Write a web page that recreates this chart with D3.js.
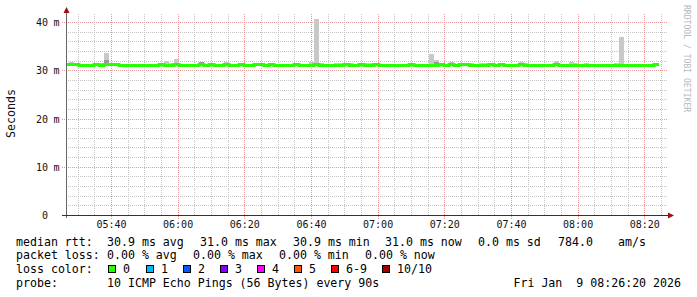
<!DOCTYPE html>
<html>
<head>
<meta charset="utf-8">
<script src="https://cdn.jsdelivr.net/npm/d3@7"></script>
<style>
  html, body { margin: 0; padding: 0; background: #fff; }
  svg text { font-family: "DejaVu Sans Mono", monospace; white-space: pre; }
</style>
</head>
<body>
<svg id="graph" width="697" height="297"></svg>
<script>
// time window of the graph and the 90s probe step
const startTime = new Date(2026, 0, 9, 5, 26, 40);
const endTime = new Date(2026, 0, 9, 8, 26, 40);
const firstSample = new Date(2026, 0, 9, 5, 25, 46);
const stepSeconds = 90;

// median rtt per step (ms)
const medianRtt = [
    31.3, 31.3, 31.3, 31.1, 31.1, 31.1, 31.3, 31.1, 31.3, 31.3,
    31.3, 31.1, 31.1, 31.1, 31.1, 31.1, 31.1, 31.1, 31.1, 31.3,
    31.1, 31.1, 31.3, 31.1, 31.1, 31.1, 31.1, 31.3, 31.1, 31.3,
    31.1, 31.1, 31.3, 31.1, 31.1, 31.3, 31.1, 31.1, 31.3, 31.3,
    31.1, 31.3, 31.1, 31.1, 31.1, 31.1, 31.3, 31.1, 31.1, 31.1,
    31.3, 31.1, 31.1, 31.1, 31.1, 31.1, 31.3, 31.1, 31.1, 31.3,
    31.1, 31.1, 31.3, 31.1, 31.1, 31.1, 31.1, 31.1, 31.1, 31.3,
    31.1, 31.1, 31.1, 31.1, 31.1, 31.3, 31.1, 31.3, 31.1, 31.3,
    31.3, 31.1, 31.1, 31.1, 31.1, 31.3, 31.1, 31.3, 31.1, 31.1,
    31.1, 31.3, 31.1, 31.1, 31.1, 31.1, 31.1, 31.1, 31.3, 31.1,
    31.1, 31.1, 31.1, 31.1, 31.1, 31.1, 31.1, 31.1, 31.1, 31.1,
    31.1, 31.1, 31.1, 31.1, 31.1, 31.1, 31.1, 31.1, 31.3
];

// slowest ping per step (outer smoke), null = no smoke above the median
const smokeMax = [
    null, 31.8, null, null, null, null, null, 31.6, 33.65, 31.6,
    null, null, null, null, null, null, null, null, null, null,
    32.0, 31.6, 32.4, null, null, null, null, 31.8, null, null,
    null, null, 31.75, null, null, null, null, null, null, 31.6,
    null, null, null, null, null, null, null, null, null, 31.8,
    40.7, 31.6, null, null, 31.7, 31.6, null, 31.7, null, null,
    31.6, 31.6, 31.7, null, null, null, null, null, null, null,
    null, null, null, 33.45, 32.25, null, null, 31.8, null, null,
    null, 31.6, null, 31.6, 31.6, null, null, null, null, null,
    null, 31.8, 31.6, null, null, null, null, null, 32.0, null,
    null, 31.85, 31.6, null, 31.6, null, null, null, null, null,
    31.7, 37.0, null, null, null, null, null, null, null
];

// inner (darker) smoke band top per step
const smokeInner = [
    null, null, null, null, null, null, null, null, 32.2, null,
    null, null, null, null, null, null, null, null, null, null,
    null, null, null, null, null, null, null, 31.8, null, null,
    null, null, null, null, null, null, null, null, null, null,
    null, null, null, null, null, null, null, null, null, null,
    null, null, null, null, null, null, null, null, null, null,
    null, null, null, null, null, null, null, null, null, null,
    null, null, null, null, 31.75, null, null, null, null, null,
    null, null, null, null, null, null, null, null, null, null,
    null, null, null, null, null, null, null, null, null, null,
    null, null, null, null, null, null, null, null, null, null,
    null, null, null, null, null, null, null, null, null
];

const yMajor = [0, 10, 20, 30, 40];
const yMajorLabels = ['0', '10', '20', '30', '40'];

const lossLabels = ['0', '1', '2', '3', '4', '5', '6-9', '10/10'];
const lossColors = ['#26ff00', '#00b8ff', '#0059ff', '#7e00ff', '#ff00ff', '#ff5500', '#ff0000', '#a00000'];

const rttStats = ['30.9 ms avg', '31.0 ms max', '30.9 ms min', '31.0 ms now', '0.0 ms sd', '784.0', 'am/s'];
const lossStats = ['0.00 % avg', '0.00 % max', '0.00 % min', '0.00 % now'];
const probeText = '10 ICMP Echo Pings (56 Bytes) every 90s';
const stampText = 'Fri Jan  9 08:26:20 2026';

// layout
const plotLeft = 67, plotRight = 667, plotTop = 13, plotBottom = 215.5;
const rttX = [107, 200, 293, 385, 478, 558, 618];
const lossX = [107, 193, 279, 365];
const boxX = [108, 146, 183, 220, 257, 294, 331, 382];
const rowY = [245.5, 259, 273, 286.5];
const minorColor = '#c4c4c4';
const majorColor = '#e29c9c';

const svg = d3.select('#graph');

const x = d3.scaleTime().domain([startTime, endTime]).range([plotLeft, plotRight]);
const y = d3.scaleLinear().domain([0, 42]).range([plotBottom, 12.85]);
const px = v => Math.floor(v);

svg.append('rect').attr('width', 697).attr('height', 297).attr('fill', '#fff');

const defs = svg.append('defs');
defs.append('clipPath').attr('id', 'plotClip')
    .append('rect')
    .attr('x', plotLeft).attr('y', 0)
    .attr('width', plotRight - plotLeft).attr('height', plotBottom);

// dotted grid as 1px-wide strips filled with a 2px dot pattern
function dotPattern(id, color, horizontal) {
    const p = defs.append('pattern').attr('id', id)
        .attr('patternUnits', 'userSpaceOnUse')
        .attr('width', horizontal ? 2 : 1).attr('height', horizontal ? 1 : 2);
    p.append('rect').attr('width', 1).attr('height', 1).attr('fill', color);
}
dotPattern('hMinor', minorColor, true);
dotPattern('vMinor', minorColor, false);
dotPattern('hMajor', majorColor, true);
dotPattern('vMajor', majorColor, false);

const minorY = y.ticks(21).filter(v => v % 10 !== 0 && v < 42);
const majorT = x.ticks(d3.timeMinute.every(20));
const minorT = x.ticks(d3.timeMinute.every(5)).filter(t => t.getMinutes() % 20 !== 0);

const grid = svg.append('g').attr('shape-rendering', 'crispEdges');
grid.selectAll('rect.hminor').data(minorY).join('rect')
    .attr('class', 'hminor')
    .attr('x', plotLeft).attr('width', plotRight + 1 - plotLeft)
    .attr('y', d => px(y(d))).attr('height', 1)
    .attr('fill', 'url(#hMinor)');
grid.selectAll('rect.vminor').data(minorT).join('rect')
    .attr('class', 'vminor')
    .attr('x', d => px(x(d))).attr('width', 1)
    .attr('y', plotTop).attr('height', 216 - plotTop)
    .attr('fill', 'url(#vMinor)');
grid.selectAll('rect.hmajor').data(yMajor.slice(1)).join('rect')
    .attr('class', 'hmajor')
    .attr('x', plotLeft - 5).attr('width', plotRight + 6 - plotLeft)
    .attr('y', d => px(y(d))).attr('height', 1)
    .attr('fill', 'url(#hMajor)');
grid.selectAll('rect.vmajor').data(majorT).join('rect')
    .attr('class', 'vmajor')
    .attr('x', d => px(x(d))).attr('width', 1)
    .attr('y', plotTop).attr('height', 219 - plotTop)
    .attr('fill', 'url(#vMajor)');

// smoke
const sampleTime = i => d3.timeSecond.offset(firstSample, i * stepSeconds);
const samples = medianRtt.map((m, i) => ({
    t0: sampleTime(i), t1: sampleTime(i + 1),
    median: m, max: smokeMax[i], inner: smokeInner[i]
}));

const plot = svg.append('g').attr('clip-path', 'url(#plotClip)');

plot.append('g').attr('shape-rendering', 'crispEdges')
    .selectAll('rect')
    .data(samples.filter(d => d.max !== null))
    .join('rect')
    .attr('x', d => x(d.t0))
    .attr('width', d => x(d.t1) - x(d.t0))
    .attr('y', d => Math.round(y(d.max)))
    .attr('height', d => Math.round(y(d.median)) - Math.round(y(d.max)))
    .attr('fill', '#c8c8c8');

plot.append('g').attr('shape-rendering', 'crispEdges')
    .selectAll('rect')
    .data(samples.filter(d => d.inner !== null))
    .join('rect')
    .attr('x', d => x(d.t0))
    .attr('width', d => x(d.t1) - x(d.t0))
    .attr('y', d => Math.round(y(d.inner)))
    .attr('height', d => Math.round(y(d.median)) - Math.round(y(d.inner)))
    .attr('fill', '#989898');

// median line, coloured by loss (all 0 here)
const linePts = samples.map(d => [x(d.t0), y(d.median)]);
linePts.push([x(samples[samples.length - 1].t1), y(medianRtt[medianRtt.length - 1])]);
plot.append('path')
    .attr('d', d3.line().curve(d3.curveStepAfter)(linePts))
    .attr('fill', 'none')
    .attr('stroke', lossColors[0])
    .attr('stroke-width', 3);

// axes
svg.append('line')
    .attr('x1', 66.5).attr('x2', 66.5).attr('y1', 11).attr('y2', 218)
    .attr('stroke', '#666').attr('shape-rendering', 'crispEdges');
svg.append('line')
    .attr('x1', 62).attr('x2', 669).attr('y1', plotBottom).attr('y2', plotBottom)
    .attr('stroke', '#333').attr('shape-rendering', 'crispEdges');
svg.append('path').attr('d', 'M63.5,13 L66.5,7 L69.5,13 Z').attr('fill', '#9b1010');
svg.append('path').attr('d', 'M668,212.5 L674,215.5 L668,218.5 Z').attr('fill', '#9b1010');

// axis labels
svg.selectAll('text.ylab').data(yMajor).join('text')
    .attr('class', 'ylab')
    .attr('x', 48).attr('y', d => px(y(d)) + 3.8)
    .attr('text-anchor', 'end')
    .attr('font-size', 10).attr('fill', '#111')
    .text((d, i) => yMajorLabels[i]);
svg.selectAll('text.yunit').data(yMajor.slice(1)).join('text')
    .attr('class', 'yunit')
    .attr('x', 53.5).attr('y', d => px(y(d)) + 3.8)
    .attr('font-size', 10).attr('fill', '#111')
    .text('m');

svg.selectAll('text.xlab').data(majorT).join('text')
    .attr('class', 'xlab')
    .attr('x', d => x(d)).attr('y', 227.5)
    .attr('text-anchor', 'middle')
    .attr('font-size', 10).attr('fill', '#111')
    .text(d3.timeFormat('%H:%M'));

svg.append('text')
    .attr('transform', 'translate(15,113.5) rotate(-90)')
    .attr('text-anchor', 'middle')
    .attr('font-size', 11.6).attr('fill', '#111')
    .text('Seconds');

svg.append('text')
    .attr('transform', 'translate(684,5) rotate(90)')
    .attr('font-size', 8.1).attr('fill', '#b8b8b8')
    .text('RRDTOOL / TOBI OETIKER');

// legend
const legend = svg.append('g').attr('font-size', 11.6).attr('fill', '#000');
legend.append('text').attr('x', 16).attr('y', rowY[0]).text('median rtt:');
legend.selectAll('text.rtt').data(rttStats).join('text')
    .attr('class', 'rtt').attr('x', (d, i) => rttX[i]).attr('y', rowY[0]).text(d => d);

legend.append('text').attr('x', 16).attr('y', rowY[1]).text('packet loss:');
legend.selectAll('text.loss').data(lossStats).join('text')
    .attr('class', 'loss').attr('x', (d, i) => lossX[i]).attr('y', rowY[1]).text(d => d);

legend.append('text').attr('x', 16).attr('y', rowY[2]).text('loss color:');
legend.selectAll('rect.lc').data(lossColors).join('rect')
    .attr('class', 'lc')
    .attr('x', (d, i) => boxX[i] + 0.5).attr('y', 265.5)
    .attr('width', 7).attr('height', 7)
    .attr('fill', d => d).attr('stroke', '#000')
    .attr('shape-rendering', 'crispEdges');
legend.selectAll('text.lcl').data(lossLabels).join('text')
    .attr('class', 'lcl').attr('x', (d, i) => boxX[i] + 15).attr('y', rowY[2]).text(d => d);

legend.append('text').attr('x', 16).attr('y', rowY[3]).text('probe:');
legend.append('text').attr('x', 107).attr('y', rowY[3]).text(probeText);
legend.append('text').attr('x', 681).attr('y', rowY[3]).attr('text-anchor', 'end').text(stampText);
</script>
</body>
</html>
